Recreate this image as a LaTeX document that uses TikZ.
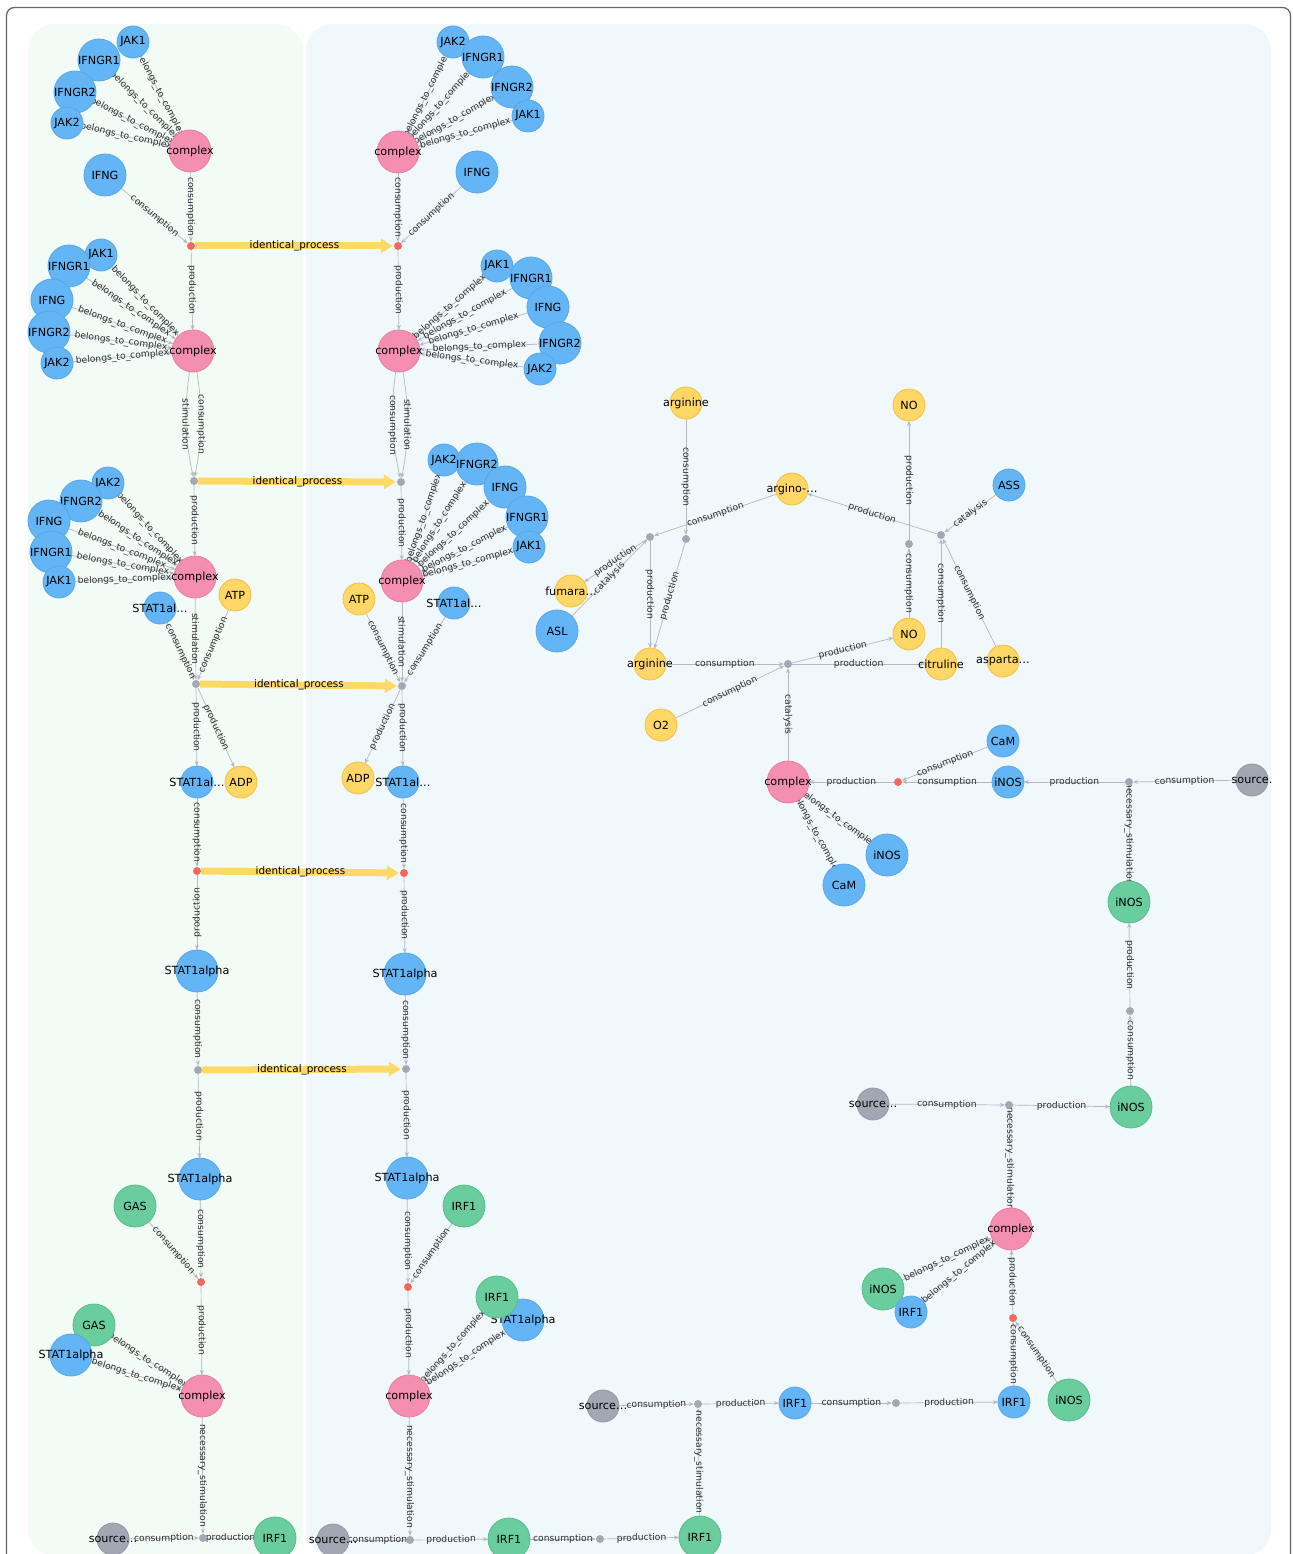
\documentclass[tikz,border=0pt]{standalone}
\usepackage{fontspec}
\setmainfont{DejaVu Sans}
\usetikzlibrary{arrows.meta}
\pgfdeclarelayer{bgl}
\pgfdeclarelayer{edgel}
\pgfsetlayers{bgl,edgel,main}
\definecolor{cBlue}{HTML}{64B5F6}
\definecolor{cBlueD}{HTML}{58A6E6}
\definecolor{cPink}{HTML}{F48FB1}
\definecolor{cPinkD}{HTML}{E57FA0}
\definecolor{cYel}{HTML}{FFD766}
\definecolor{cYelD}{HTML}{F2C044}
\definecolor{cGreen}{HTML}{6ACD9E}
\definecolor{cGreenD}{HTML}{5BBA8A}
\definecolor{cSrc}{HTML}{A3A7B3}
\definecolor{cSrcD}{HTML}{9498A4}
\definecolor{cRed}{HTML}{F0695C}
\definecolor{cDot}{HTML}{A4A8B4}
\definecolor{cEdge}{HTML}{B3B8C2}
\definecolor{cIP}{HTML}{FFD966}
\definecolor{cFrame}{HTML}{666666}
\definecolor{cPG}{HTML}{F2FBF5}
\definecolor{cPB}{HTML}{F0F8FC}
\newcommand\mynd[5]{\node[#1,label={[nl]center:#5}] (#2) at (#3,#4) {};}
\newcommand\mypd[4]{\node[#1] (#2) at (#3,#4) {};}
\newcommand\edS[3]{\draw[ed] (#1) -- node[el,sloped]{#3} (#2);}
\newcommand\edV[3]{\draw[ed] (#1) -- node[el,rotate=-90]{#3} (#2);}
\newcommand\edB[2]{\draw[ed] (#1) -- node[el,sloped]{belongs\_to\_complex} (#2);}
\newcommand\edI[2]{\draw[ipst] (#1) -- node[ipl]{identical\_process} (#2);}
\begin{document}
\begin{tikzpicture}[x=1pt,y=-1pt,
  base/.style={circle, inner sep=0pt, outer sep=0pt, line width=0.8pt},
  bS/.style={base, fill=cBlue, draw=cBlueD, minimum size=32pt},
  bL/.style={base, fill=cBlue, draw=cBlueD, minimum size=42pt},
  pk/.style={base, fill=cPink, draw=cPinkD, minimum size=42pt},
  yS/.style={base, fill=cYel, draw=cYelD, minimum size=32pt},
  gL/.style={base, fill=cGreen, draw=cGreenD, minimum size=42pt},
  sr/.style={base, fill=cSrc, draw=cSrcD, minimum size=32pt},
  pr/.style={circle, inner sep=0pt, minimum size=8pt, fill=cRed},
  pg/.style={circle, inner sep=0pt, minimum size=8pt, fill=cDot},
  nl/.style={font=\fontsize{11.2}{12}\selectfont, text=black, inner sep=0pt},
  ed/.style={draw=cEdge, line width=0.7pt, -{Stealth[length=5pt,width=4pt]}},
  el/.style={font=\fontsize{9.2}{10}\selectfont, text=black!82, inner sep=1pt},
  ipst/.style={draw=cIP, line width=7pt, -{Triangle[length=12pt,width=14pt]}, shorten >=1pt},
  ipl/.style={font=\fontsize{10.4}{11}\selectfont, text=black, inner sep=0pt}
]
\useasboundingbox (0,0) rectangle (1292,1554);
\begin{pgfonlayer}{bgl}
\fill[white] (0,0) rectangle (1292,1554);
\draw[cFrame, line width=1.3pt, rounded corners=8pt] (6.5,7.5) rectangle (1290.5,1600);
\fill[cPG, rounded corners=27pt] (28,24) rectangle (303,1556);
\fill[cPB, rounded corners=27pt] (306,24) rectangle (1271,1556);
\end{pgfonlayer}

% ---------- left column ----------
\mynd{bS}{jak1a}{133}{42}{JAK1}
\mynd{bL}{ifngr1a}{99}{60}{IFNGR1}
\mynd{bL}{ifngr2a}{75}{92}{IFNGR2}
\mynd{bS}{jak2a}{67}{123}{JAK2}
\mynd{pk}{cxL1}{190}{151}{complex}
\mynd{bL}{ifngL1}{105}{175}{IFNG}
\mypd{pr}{pL1}{191}{246}

\mynd{bS}{jak1c}{101}{255}{JAK1}
\mynd{bL}{ifngr1c}{69}{266}{IFNGR1}
\mynd{bL}{ifngc}{52}{300}{IFNG}
\mynd{bL}{ifngr2c}{49}{332}{IFNGR2}
\mynd{bS}{jak2c}{57}{363}{JAK2}
\mynd{pk}{cxL2}{193}{351}{complex}
\mypd{pg}{pL2}{194}{481}

\mynd{bS}{jak2e}{108}{483}{JAK2}
\mynd{bL}{ifngr2e}{81}{501}{IFNGR2}
\mynd{bL}{ifnge}{49}{521}{IFNG}
\mynd{bL}{ifngr1e}{51}{552}{IFNGR1}
\mynd{bS}{jak1e}{59}{582}{JAK1}
\mynd{pk}{cxL3}{195}{577}{complex}
\mynd{yS}{atpL}{235}{595}{ATP}
\mynd{bS}{statL3}{160}{608}{STAT1al…}
\mypd{pg}{pL3}{196}{684}
\mynd{bS}{statL4}{197}{782}{STAT1al…}
\mynd{yS}{adpL}{241}{782}{ADP}

\mypd{pr}{pL4}{197}{871}
\mynd{bL}{stL5}{197}{971}{STAT1alpha}
\mypd{pg}{pL5}{198}{1070}
\mynd{bL}{stL6}{200}{1179}{STAT1alpha}
\mynd{gL}{gasA}{135}{1206}{GAS}
\mypd{pr}{pL6}{201}{1282}
\mynd{gL}{gasB}{94}{1325}{GAS}
\mynd{bL}{stL7}{71}{1355}{STAT1alpha}
\mynd{pk}{cxL6}{202}{1396}{complex}
\mynd{sr}{srcE}{113}{1539}{source…}
\mypd{pg}{pL7}{203}{1538}
\mynd{gL}{irfG1}{275}{1538}{IRF1}

% ---------- middle column ----------
\mynd{bS}{jak2b}{453}{42}{JAK2}
\mynd{bL}{ifngr1b}{483}{57}{IFNGR1}
\mynd{bL}{ifngr2b}{512}{87}{IFNGR2}
\mynd{bS}{jak1b}{528}{116}{JAK1}
\mynd{pk}{cxR1}{398}{152}{complex}
\mynd{bL}{ifngR1}{477}{172}{IFNG}
\mypd{pr}{pR1}{398}{246}

\mynd{bS}{jak1d}{497}{266}{JAK1}
\mynd{bL}{ifngr1d}{531}{278}{IFNGR1}
\mynd{bL}{ifngd}{548}{307}{IFNG}
\mynd{bL}{ifngr2d}{560}{343}{IFNGR2}
\mynd{bS}{jak2d}{540}{369}{JAK2}
\mynd{pk}{cxR2}{399}{351}{complex}
\mypd{pg}{pR2}{401}{482}

\mynd{bS}{jak2f}{444}{460}{JAK2}
\mynd{bL}{ifngr2f}{477}{464}{IFNGR2}
\mynd{bL}{ifngf}{505}{487}{IFNG}
\mynd{bL}{ifngr1f}{527}{517}{IFNGR1}
\mynd{bS}{jak1f}{529}{547}{JAK1}
\mynd{pk}{cxR3}{402}{581}{complex}
\mynd{yS}{atpR}{359}{599}{ATP}
\mynd{bS}{statR3}{454}{603}{STAT1al…}
\mypd{pg}{pR3}{402}{686}
\mynd{yS}{adpR}{358}{778}{ADP}
\mynd{bS}{statR4}{403}{782}{STAT1al…}

\mypd{pr}{pR4}{404}{873}
\mynd{bL}{stR5}{405}{974}{STAT1alpha}
\mypd{pg}{pR5}{406}{1069}
\mynd{bL}{stR6}{407}{1178}{STAT1alpha}
\mynd{gL}{irfA}{464}{1206}{IRF1}
\mypd{pr}{pR6}{408}{1287}
\mynd{bL}{stR7}{523}{1320}{STAT1alpha}
\mynd{gL}{irfB}{497}{1297}{IRF1}
\mynd{pk}{cxR6}{409}{1396}{complex}
\mynd{sr}{srcD}{333}{1540}{source…}
\mypd{pg}{pR7}{410}{1540}
\mynd{gL}{irfG2}{509}{1539}{IRF1}
\mypd{pg}{p8}{600}{1539}
\mynd{gL}{irfG3}{700}{1537}{IRF1}

% ---------- right region ----------
\mynd{yS}{argT}{686}{403}{arginine}
\mynd{yS}{NOt}{909}{405}{NO}
\mynd{yS}{argino}{792}{489}{argino-…}
\mynd{bS}{ASS}{1009}{485}{ASS}
\mypd{pg}{p19}{650}{537}
\mypd{pg}{p20}{686}{539}
\mypd{pg}{p17}{909}{544}
\mypd{pg}{p18}{941}{535}
\mynd{yS}{fum}{571}{591}{fumara…}
\mynd{bL}{ASL}{557}{631}{ASL}
\mynd{yS}{argB}{650}{664}{arginine}
\mypd{pg}{p16}{788}{664}
\mynd{yS}{NOb}{909}{634}{NO}
\mynd{yS}{cit}{941}{664}{citruline}
\mynd{yS}{asp}{1003}{661}{asparta…}
\mynd{yS}{O2}{661}{725}{O2}

\mynd{pk}{cxM}{788}{782}{complex}
\mypd{pr}{p15}{898}{782}
\mynd{bS}{CaMa}{1003}{741}{CaM}
\mynd{bS}{iNOSa}{1008}{782}{iNOS}
\mypd{pg}{p14}{1129}{782}
\mynd{sr}{srcA}{1252}{780}{source.}
\mynd{bL}{iNOSb}{887}{855}{iNOS}
\mynd{bL}{CaMb}{844}{885}{CaM}
\mynd{gL}{iNOSg1}{1129}{902}{iNOS}
\mypd{pg}{p13}{1130}{1011}
\mynd{gL}{iNOSg2}{1131}{1107}{iNOS}
\mynd{sr}{srcB}{873}{1104}{source…}
\mypd{pg}{p12}{1009}{1105}
\mynd{pk}{cxB}{1011}{1229}{complex}
\mynd{gL}{iNOSg3}{883}{1289}{iNOS}
\mynd{bS}{IRFb1}{911}{1312}{IRF1}
\mypd{pr}{p11}{1013}{1318}
\mynd{bS}{IRFb2}{1014}{1402}{IRF1}
\mynd{gL}{iNOSg4}{1069}{1400}{iNOS}
\mypd{pg}{p10}{896}{1403}
\mynd{bS}{IRFb3}{795}{1403}{IRF1}
\mypd{pg}{p9}{698}{1404}
\mynd{sr}{srcC}{603}{1406}{source…}

\begin{pgfonlayer}{edgel}
% left top
\edB{jak1a}{cxL1}\edB{ifngr1a}{cxL1}\edB{ifngr2a}{cxL1}\edB{jak2a}{cxL1}
\edV{cxL1}{pL1}{consumption}
\edS{ifngL1}{pL1}{consumption}
\edV{pL1}{cxL2}{production}
\edB{jak1c}{cxL2}\edB{ifngr1c}{cxL2}\edB{ifngc}{cxL2}\edB{ifngr2c}{cxL2}\edB{jak2c}{cxL2}
\draw[ed] (cxL2) to[bend right=10] node[el,rotate=-90]{stimulation} (pL2);
\draw[ed] (cxL2) to[bend left=10] node[el,rotate=-90]{consumption} (pL2);
\edV{pL2}{cxL3}{production}
\edB{jak2e}{cxL3}\edB{ifngr2e}{cxL3}\edB{ifnge}{cxL3}\edB{ifngr1e}{cxL3}\edB{jak1e}{cxL3}
\edV{cxL3}{pL3}{stimulation}
\edS{statL3}{pL3}{consumption}
\edS{atpL}{pL3}{consumption}
\edV{pL3}{statL4}{production}
\edS{pL3}{adpL}{production}
\edV{statL4}{pL4}{consumption}
\draw[ed] (pL4) -- node[el,rotate=90]{production} (stL5);
\edV{stL5}{pL5}{consumption}
\edV{pL5}{stL6}{production}
\edV{stL6}{pL6}{consumption}
\edS{gasA}{pL6}{consumption}
\edV{pL6}{cxL6}{production}
\edB{gasB}{cxL6}\edB{stL7}{cxL6}
\edV{cxL6}{pL7}{necessary\_stimulation}
\edS{srcE}{pL7}{consumption}
\edS{pL7}{irfG1}{production}
% middle
\edB{jak2b}{cxR1}\edB{ifngr1b}{cxR1}\edB{ifngr2b}{cxR1}\edB{jak1b}{cxR1}
\edV{cxR1}{pR1}{consumption}
\edS{ifngR1}{pR1}{consumption}
\edV{pR1}{cxR2}{production}
\edB{jak1d}{cxR2}\edB{ifngr1d}{cxR2}\edB{ifngd}{cxR2}\edB{ifngr2d}{cxR2}\edB{jak2d}{cxR2}
\draw[ed] (cxR2) to[bend right=10] node[el,rotate=-90]{consumption} (pR2);
\draw[ed] (cxR2) to[bend left=10] node[el,rotate=-90]{stimulation} (pR2);
\edV{pR2}{cxR3}{production}
\edB{jak2f}{cxR3}\edB{ifngr2f}{cxR3}\edB{ifngf}{cxR3}\edB{ifngr1f}{cxR3}\edB{jak1f}{cxR3}
\edV{cxR3}{pR3}{stimulation}
\edS{atpR}{pR3}{consumption}
\edS{statR3}{pR3}{consumption}
\edS{pR3}{adpR}{production}
\edV{pR3}{statR4}{production}
\edV{statR4}{pR4}{consumption}
\edV{pR4}{stR5}{production}
\edV{stR5}{pR5}{consumption}
\edV{pR5}{stR6}{production}
\edV{stR6}{pR6}{consumption}
\edS{irfA}{pR6}{consumption}
\edV{pR6}{cxR6}{production}
\edB{irfB}{cxR6}\edB{stR7}{cxR6}
\edV{cxR6}{pR7}{necessary\_stimulation}
\edS{srcD}{pR7}{consumption}
\edS{pR7}{irfG2}{production}
\edS{irfG2}{p8}{consumption}
\edS{p8}{irfG3}{production}
% right
\edV{irfG3}{p9}{necessary\_stimulation}
\edS{srcC}{p9}{consumption}
\edS{p9}{IRFb3}{production}
\edS{IRFb3}{p10}{consumption}
\edS{p10}{IRFb2}{production}
\edV{IRFb2}{p11}{consumption}
\edS{iNOSg4}{p11}{consumption}
\edV{p11}{cxB}{production}
\edB{iNOSg3}{cxB}\edB{IRFb1}{cxB}
\edV{cxB}{p12}{necessary\_stimulation}
\edS{srcB}{p12}{consumption}
\edS{p12}{iNOSg2}{production}
\edV{iNOSg2}{p13}{consumption}
\edV{p13}{iNOSg1}{production}
\edV{iNOSg1}{p14}{necessary\_stimulation}
\edS{srcA}{p14}{consumption}
\edS{p14}{iNOSa}{production}
\edS{iNOSa}{p15}{consumption}
\edS{CaMa}{p15}{consumption}
\edS{p15}{cxM}{production}
\edB{iNOSb}{cxM}\edB{CaMb}{cxM}
\edV{cxM}{p16}{catalysis}
\edS{argB}{p16}{consumption}
\edS{O2}{p16}{consumption}
\edS{p16}{NOb}{production}
\edS{p16}{cit}{production}
\edV{NOb}{p17}{consumption}
\edV{p17}{NOt}{production}
\edV{cit}{p18}{consumption}
\edS{asp}{p18}{consumption}
\edS{ASS}{p18}{catalysis}
\edS{p18}{argino}{production}
\edS{argino}{p19}{consumption}
\edS{ASL}{p19}{catalysis}
\edS{p19}{fum}{production}
\edV{p19}{argB}{production}
\edV{argT}{p20}{consumption}
\edS{p20}{argB}{production}
% identical process
\edI{pL1}{pR1}
\edI{pL2}{pR2}
\edI{pL3}{pR3}
\edI{pL4}{pR4}
\edI{pL5}{pR5}
\end{pgfonlayer}
\end{tikzpicture}
\end{document}
